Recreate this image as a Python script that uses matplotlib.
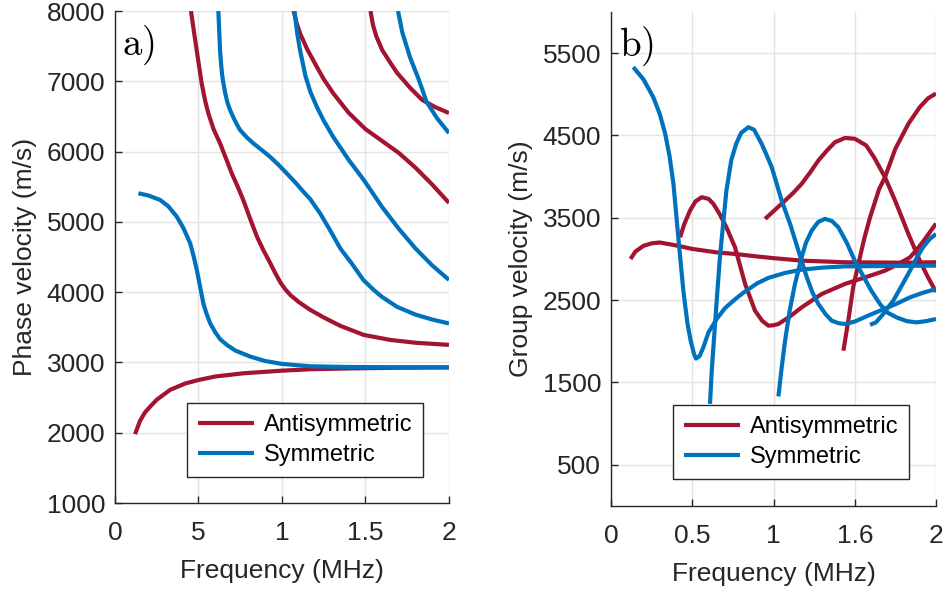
import matplotlib
matplotlib.use("Agg")
import matplotlib.pyplot as plt

plt.rcParams['font.family'] = ['Liberation Sans', 'DejaVu Sans']
plt.rcParams['mathtext.fontset'] = 'cm'

RED = '#A2142F'
BLUE = '#0072BD'
TXT = '#262626'

# ---- phase velocity (m/s) vs frequency (MHz) ----
pa0_f = [0.12, 0.15, 0.18, 0.21, 0.25, 0.33, 0.42, 0.5, 0.6, 0.77, 1.0, 1.17, 1.4, 1.7, 2.0]
pa0_v = [1980, 2170, 2290, 2370, 2470, 2610, 2700, 2750, 2800, 2846, 2883, 2903, 2915, 2925, 2930]

ps0_f = [0.14, 0.2, 0.27, 0.32, 0.37, 0.41, 0.45, 0.47, 0.49, 0.51, 0.53, 0.55, 0.57, 0.6,
         0.63, 0.67, 0.72, 0.81, 0.9, 1.0, 1.17, 1.4, 1.7, 2.0]
ps0_v = [5407, 5375, 5312, 5220, 5074, 4910, 4696, 4520, 4316, 4070, 3830, 3680, 3557, 3430,
         3330, 3249, 3170, 3083, 3020, 2979, 2945, 2935, 2932, 2930]

pa1_f = [0.455, 0.47, 0.489, 0.505, 0.519, 0.54, 0.559, 0.59, 0.629, 0.665, 0.699, 0.735,
         0.768, 0.81, 0.85, 0.89, 0.93, 0.96, 0.99, 1.02, 1.05, 1.1, 1.17, 1.25, 1.35, 1.49,
         1.65, 1.8, 2.0]
pa1_v = [8000, 7750, 7445, 7190, 6972, 6720, 6545, 6320, 6118, 5900, 5691, 5500,
         5312, 5040, 4790, 4590, 4411, 4270, 4140, 4040, 3960, 3860, 3747, 3640, 3520, 3391,
         3320, 3280, 3250]

ps1_f = [0.619, 0.624, 0.629, 0.635, 0.641, 0.649, 0.66, 0.673, 0.689, 0.71, 0.73, 0.749,
         0.79, 0.828, 0.88, 0.928, 0.98, 1.028, 1.08, 1.128, 1.17, 1.228, 1.287, 1.35, 1.42,
         1.487, 1.55, 1.6, 1.69, 1.8, 1.9, 2.0]
ps1_v = [8000, 7720, 7445, 7260, 7100, 6972, 6830, 6700, 6592, 6480, 6385, 6307,
         6200, 6118, 6020, 5927, 5810, 5691, 5560, 5430, 5320, 5122, 4885, 4620, 4400,
         4174, 4030, 3930, 3790, 3680, 3610, 3555]

pa2_f = [1.07, 1.085, 1.108, 1.15, 1.208, 1.25, 1.307, 1.4, 1.5, 1.6, 1.7, 1.8, 1.9, 2.0]
pa2_v = [8000, 7850, 7683, 7460, 7208, 7030, 6829, 6550, 6320, 6150, 5980, 5770, 5530, 5270]

ps2_f = [1.075, 1.09, 1.108, 1.14, 1.17, 1.208, 1.25, 1.307, 1.4, 1.49, 1.6, 1.7, 1.8,
         1.9, 2.0]
ps2_v = [8000, 7700, 7445, 7080, 6850, 6639, 6440, 6208, 5880, 5596, 5210, 4900, 4620,
         4380, 4174]

pa3_f = [1.53, 1.545, 1.565, 1.6, 1.65, 1.69, 1.77, 1.84, 1.92, 2.0]
pa3_v = [8000, 7800, 7640, 7445, 7260, 7118, 6900, 6734, 6630, 6549]

ps3_f = [1.695, 1.72, 1.766, 1.82, 1.866, 1.93, 2.0]
ps3_v = [8000, 7700, 7346, 7020, 6706, 6470, 6264]

# ---- group velocity (m/s) vs frequency (MHz) ----
ga0_f = [0.12, 0.15, 0.2, 0.25, 0.3, 0.4, 0.5, 0.65, 0.763, 0.9, 1.0, 1.173, 1.44, 1.8, 2.0]
ga0_v = [3000, 3090, 3160, 3190, 3200, 3165, 3122, 3080, 3061, 3030, 3010, 2980, 2960,
         2955, 2960]

gs0_f = [0.137, 0.2, 0.26, 0.3, 0.333, 0.36, 0.384, 0.414, 0.445, 0.47, 0.49, 0.51, 0.523,
         0.545, 0.568, 0.6, 0.65, 0.7, 0.763, 0.814, 0.9, 0.968, 1.07, 1.173, 1.3, 1.44,
         1.7, 2.0]
gs0_v = [5330, 5180, 4965, 4760, 4523, 4250, 3912, 3263, 2615, 2220, 2008, 1850, 1790,
         1820, 1926, 2110, 2270, 2400, 2510, 2590, 2705, 2770, 2830, 2870, 2895, 2910,
         2915, 2919]

ga1_f = [0.425, 0.45, 0.486, 0.52, 0.558, 0.6, 0.63, 0.67, 0.71, 0.763, 0.825, 0.886,
         0.93, 0.968, 1.0, 1.03, 1.1, 1.173, 1.297, 1.44, 1.532, 1.6, 1.686, 1.76, 1.84,
         1.88, 1.92, 1.96, 2.0]
ga1_v = [3263, 3420, 3588, 3700, 3750, 3730, 3669, 3540, 3385, 3142, 2697, 2372,
         2250, 2190, 2195, 2210, 2300, 2412, 2575, 2697, 2757, 2800, 2858, 2930, 3020,
         3110, 3210, 3320, 3430]

ga2_f = [0.948, 1.0, 1.071, 1.12, 1.173, 1.225, 1.276, 1.33, 1.378, 1.44, 1.5, 1.57,
         1.62, 1.686, 1.75, 1.83, 1.9, 1.95, 2.0]
ga2_v = [3487, 3580, 3709, 3800, 3912, 4050, 4196, 4320, 4418, 4470, 4460, 4380,
         4230, 3993, 3700, 3304, 2980, 2780, 2600]

ga3_f = [1.43, 1.46, 1.49, 1.522, 1.56, 1.594, 1.65, 1.686, 1.75, 1.83, 1.9, 1.95, 2.0]
ga3_v = [1886, 2250, 2655, 2940, 3260, 3506, 3850, 3993, 4340, 4642, 4844, 4950, 5010]

gs1_f = [0.609, 0.62, 0.64, 0.655, 0.67, 0.69, 0.71, 0.74, 0.77, 0.8, 0.845, 0.88, 0.927,
         0.96, 0.989, 1.02, 1.05, 1.102, 1.153, 1.205, 1.24, 1.276, 1.32, 1.358, 1.4, 1.44,
         1.5, 1.58, 1.655, 1.75, 1.84, 1.92, 2.0]
gs1_v = [1240, 1650, 2210, 2620, 3020, 3430, 3831, 4200, 4398, 4530, 4600, 4570, 4398,
         4250, 4114, 3910, 3709, 3426, 3101, 2777, 2590, 2453, 2330, 2250, 2220, 2210,
         2240, 2310, 2372, 2450, 2534, 2590, 2635]

gs2_f = [1.03, 1.05, 1.071, 1.1, 1.132, 1.173, 1.2, 1.235, 1.275, 1.317, 1.36, 1.399,
         1.45, 1.5, 1.55, 1.6, 1.655, 1.7, 1.758, 1.82, 1.88, 1.94, 2.0]
gs2_v = [1330, 1680, 2007, 2380, 2697, 3020, 3200, 3345, 3450, 3487, 3460, 3385,
         3200, 2980, 2800, 2620, 2453, 2350, 2290, 2245, 2230, 2245, 2271]

gs3_f = [1.594, 1.63, 1.67, 1.737, 1.79, 1.84, 1.88, 1.92, 1.96, 2.0]
gs3_v = [2200, 2230, 2320, 2494, 2680, 2858, 3010, 3142, 3240, 3304]

phase_anti = [(pa0_f, pa0_v), (pa1_f, pa1_v), (pa2_f, pa2_v), (pa3_f, pa3_v)]
phase_sym = [(ps0_f, ps0_v), (ps1_f, ps1_v), (ps2_f, ps2_v), (ps3_f, ps3_v)]
group_anti = [(ga0_f, ga0_v), (ga1_f, ga1_v), (ga2_f, ga2_v), (ga3_f, ga3_v)]
group_sym = [(gs0_f, gs0_v), (gs1_f, gs1_v), (gs2_f, gs2_v), (gs3_f, gs3_v)]

phase_xticklabels = ['0', '5', '1', '1.5', '2']
group_xticklabels = ['0', '0.5', '1', '1.6', '2']
phase_yticks = [1000, 2000, 3000, 4000, 5000, 6000, 7000, 8000]
group_yticks = [500, 1500, 2500, 3500, 4500, 5500]

LW = 3.0
FS = 19

fig = plt.figure(figsize=(9.45, 5.95), dpi=100)
ax1 = fig.add_axes([0.1217, 0.1546, 0.3534, 0.8269])
ax2 = fig.add_axes([0.6466, 0.1496, 0.3439, 0.8303])


def style_axis(ax, yticks, xlabels, ylabel, ylim):
    ax.set_xlim(0, 2)
    ax.set_ylim(*ylim)
    ax.set_xticks([0, 0.5, 1, 1.5, 2])
    ax.set_xticklabels(xlabels)
    ax.set_yticks(yticks)
    ax.grid(True, color='#e3e3e3', linewidth=1.0)
    ax.set_axisbelow(True)
    for s in ['top', 'right']:
        ax.spines[s].set_visible(False)
    for s in ['left', 'bottom']:
        ax.spines[s].set_color(TXT)
        ax.spines[s].set_linewidth(1.0)
    ax.tick_params(direction='in', length=5, width=1.0, colors=TXT, labelsize=FS)
    ax.tick_params(axis='x', pad=13)
    ax.tick_params(axis='y', pad=7)
    ax.set_xlabel('Frequency (MHz)', fontsize=FS, color=TXT, labelpad=10)
    ax.set_ylabel(ylabel, fontsize=FS, color=TXT, labelpad=7)


def draw_modes(ax, anti, sym):
    for i, (f, v) in enumerate(anti):
        ax.plot(f, v, color=RED, lw=LW, label='Antisymmetric' if i == 0 else None,
                solid_capstyle='butt', solid_joinstyle='round', zorder=3)
    for i, (f, v) in enumerate(sym):
        ax.plot(f, v, color=BLUE, lw=LW, label='Symmetric' if i == 0 else None,
                solid_capstyle='butt', solid_joinstyle='round', zorder=3)


draw_modes(ax1, phase_anti, phase_sym)
style_axis(ax1, phase_yticks, phase_xticklabels, 'Phase velocity (m/s)', (1000, 8000))
ax1.text(0.02, 0.975, r'$\mathrm{a)}$', transform=ax1.transAxes, fontsize=28,
         va='top', ha='left', color='black')

draw_modes(ax2, group_anti, group_sym)
style_axis(ax2, group_yticks, group_xticklabels, 'Group velocity (m/s)', (0, 6000))
ax2.text(0.025, 0.975, r'$\mathrm{b)}$', transform=ax2.transAxes, fontsize=28,
         va='top', ha='left', color='black')

for ax, anchor in [(ax1, (0.922, 0.053)), (ax2, (0.917, 0.055))]:
    leg = ax.legend(loc='lower right', bbox_to_anchor=anchor, fontsize=17,
                    frameon=True, fancybox=False, framealpha=1, edgecolor=TXT,
                    handlelength=2.4, handletextpad=0.4, borderpad=0.45,
                    labelspacing=0.35, borderaxespad=0)
    leg.get_frame().set_linewidth(1.0)
    for t in leg.get_texts():
        t.set_color('black')

fig.savefig('out.png', dpi=100)
